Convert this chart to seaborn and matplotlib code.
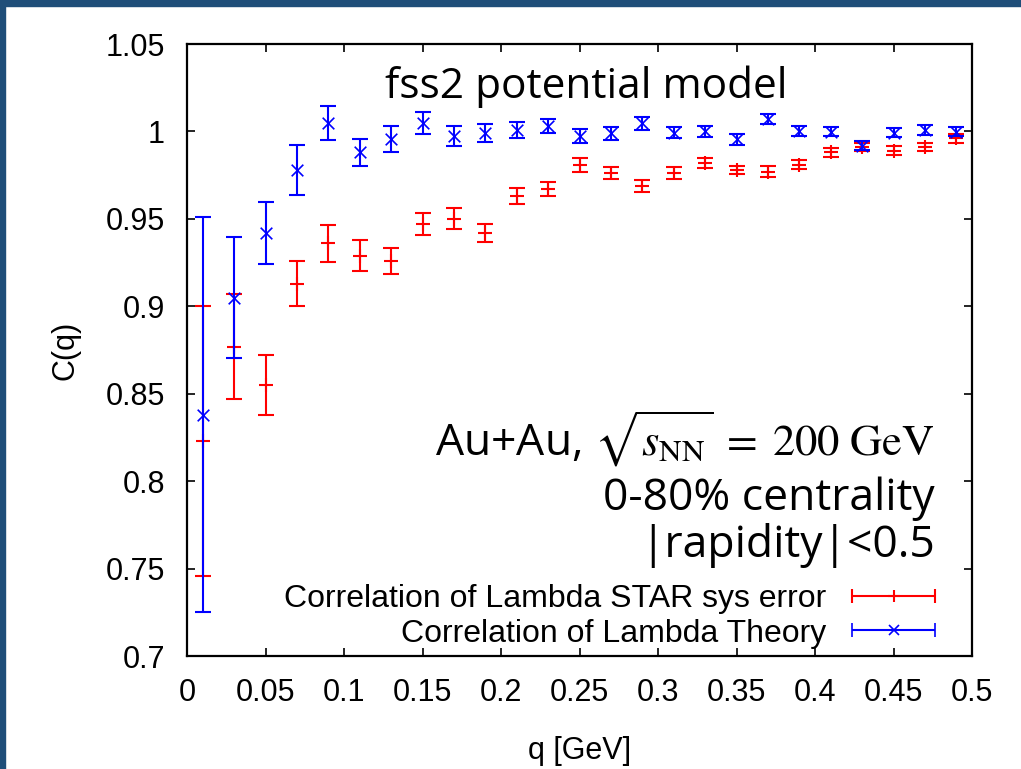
import numpy as np
import matplotlib
matplotlib.use("Agg")
import matplotlib.pyplot as plt
import seaborn as sns
from matplotlib.patches import Rectangle
from matplotlib.legend_handler import HandlerErrorbar
from matplotlib.container import ErrorbarContainer
from matplotlib.ticker import FixedLocator, FixedFormatter

# ---------------- data ----------------
q = [0.01, 0.03, 0.05, 0.07, 0.09, 0.11, 0.13, 0.15, 0.17, 0.19, 0.21, 0.23, 0.25,
     0.27, 0.29, 0.31, 0.33, 0.35, 0.37, 0.39, 0.41, 0.43, 0.45, 0.47, 0.49]

star_c = [0.823, 0.877, 0.855, 0.913, 0.936, 0.929, 0.926, 0.947, 0.950, 0.942, 0.963, 0.967, 0.981,
          0.976, 0.969, 0.976, 0.982, 0.978, 0.977, 0.981, 0.988, 0.991, 0.989, 0.991, 0.996]
star_err = [0.077, 0.030, 0.017, 0.013, 0.0105, 0.009, 0.0073, 0.0063, 0.006, 0.005, 0.0046, 0.004, 0.004,
            0.0034, 0.0034, 0.0034, 0.003, 0.0025, 0.003, 0.0025, 0.0026, 0.0022, 0.0025, 0.0024, 0.0024]

theory_c = [0.838, 0.905, 0.942, 0.978, 1.005, 0.988, 0.9955, 1.0046, 0.9974, 0.9989, 1.0008, 1.0031, 0.9974,
            0.9989, 1.0046, 0.9993, 1.0000, 0.9955, 1.0069, 1.0004, 0.9999, 0.9917, 0.9993, 1.0008, 0.9999]
theory_err = [0.113, 0.0348, 0.0178, 0.0143, 0.0097, 0.0078, 0.0074, 0.0063, 0.0057, 0.0052, 0.0046, 0.004, 0.0038,
              0.0038, 0.0037, 0.0033, 0.0033, 0.0033, 0.0029, 0.0029, 0.0027, 0.0026, 0.0024, 0.0027, 0.0026]

series_labels = ["Correlation of Lambda STAR sys error", "Correlation of Lambda Theory"]
x_ticks = [0, 0.05, 0.1, 0.15, 0.2, 0.25, 0.3, 0.35, 0.4, 0.45, 0.5]
x_ticklabels = ["0", "0.05", "0.1", "0.15", "0.2", "0.25", "0.3", "0.35", "0.4", "0.45", "0.5"]
y_ticks = [0.7, 0.75, 0.8, 0.85, 0.9, 0.95, 1.0, 1.05]
y_ticklabels = ["0.7", "0.75", "0.8", "0.85", "0.9", "0.95", "1", "1.05"]

title_text = "fss2 potential model"
info_lines = [r"Au+Au, $\sqrt{s_{\mathrm{NN}}}\;=\;200\ \mathrm{GeV}$", "0-80% centrality", "|rapidity|<0.5"]

# ---------------- style ----------------
sns.set_theme(style="ticks")
plt.rcParams["font.family"] = ["Liberation Sans", "DejaVu Sans"]
plt.rcParams["mathtext.fontset"] = "stix"
for k in ["text.color", "axes.labelcolor", "xtick.color", "ytick.color", "axes.edgecolor"]:
    plt.rcParams[k] = "black"

fig = plt.figure(figsize=(10.21, 7.69), dpi=100)
fig.patch.set_facecolor("white")
ax = fig.add_axes([187 / 1021, 1 - 656 / 769, 785 / 1021, 612 / 769])

RED = "#ff0000"
BLUE = "#0000ff"
FS = 22
ANN = ["Open Sans", "DejaVu Sans"]

# STAR
ax.errorbar(q, star_c, yerr=star_err, fmt="none", ecolor=RED, elinewidth=1.5,
            capsize=5.5, capthick=1.5, zorder=2)
sns.scatterplot(x=q, y=star_c, marker="+", color=RED, s=90, linewidth=1.5,
                ax=ax, legend=False, zorder=3)
# Theory
ax.errorbar(q, theory_c, yerr=theory_err, fmt="none", ecolor=BLUE, elinewidth=1.5,
            capsize=5.5, capthick=1.5, zorder=4)
sns.scatterplot(x=q, y=theory_c, marker="x", color=BLUE, s=70, linewidth=1.2,
                ax=ax, legend=False, zorder=5)

ax.set_xlim(0, 0.5)
ax.set_ylim(0.7, 1.05)
ax.xaxis.set_major_locator(FixedLocator(x_ticks))
ax.xaxis.set_major_formatter(FixedFormatter(x_ticklabels))
ax.yaxis.set_major_locator(FixedLocator(y_ticks))
ax.yaxis.set_major_formatter(FixedFormatter(y_ticklabels))
ax.tick_params(direction="in", length=6, width=1.2, color="black",
               top=True, right=True, labelsize=FS, pad=16, labelcolor="black")
for s in ax.spines.values():
    s.set_visible(True)
    s.set_color("black")
    s.set_linewidth(1.6)

ax.set_xlabel("q [GeV]", fontsize=FS, labelpad=20, color="black")
ax.set_ylabel("C(q)", fontsize=FS, labelpad=18, color="black")

# legend with horizontal error-bar samples (gnuplot style)
h1 = ax.errorbar([np.nan], [np.nan], xerr=[np.nan], fmt="+", color=RED, ms=9, mew=1.5,
                 elinewidth=1.5, capsize=5, capthick=1.5)
h2 = ax.errorbar([np.nan], [np.nan], xerr=[np.nan], fmt="x", color=BLUE, ms=7, mew=1.2,
                 elinewidth=1.5, capsize=5, capthick=1.5)
ax.legend([h1, h2], series_labels, loc="lower right", bbox_to_anchor=(0.953, 0.012),
          frameon=False, markerfirst=False, prop={"size": 23}, labelcolor="black",
          numpoints=1, handlelength=2.6, handletextpad=0.8, labelspacing=0.15, borderpad=0,
          borderaxespad=0,
          handler_map={ErrorbarContainer: HandlerErrorbar(xerr_size=1.3)})

# annotations
ax.text(0.508, 0.912, title_text, transform=ax.transAxes, ha="center", va="baseline",
        fontsize=30.5, family=ANN, color="black")
info_y = [0.328, 0.2386, 0.1618]
for txt, yy in zip(info_lines, info_y):
    ax.text(0.953, yy, txt, transform=ax.transAxes, ha="right", va="baseline",
            fontsize=32, family=ANN, color="black")

# slide frame (top and left dark-blue strips)
fig.add_artist(Rectangle((0, 1 - 6 / 769), 1, 6 / 769, transform=fig.transFigure,
                         color="#1f4e79", zorder=10))
fig.add_artist(Rectangle((0, 0), 5 / 1021, 1, transform=fig.transFigure,
                         color="#1f4e79", zorder=10))

fig.savefig("out.png", dpi=100)
